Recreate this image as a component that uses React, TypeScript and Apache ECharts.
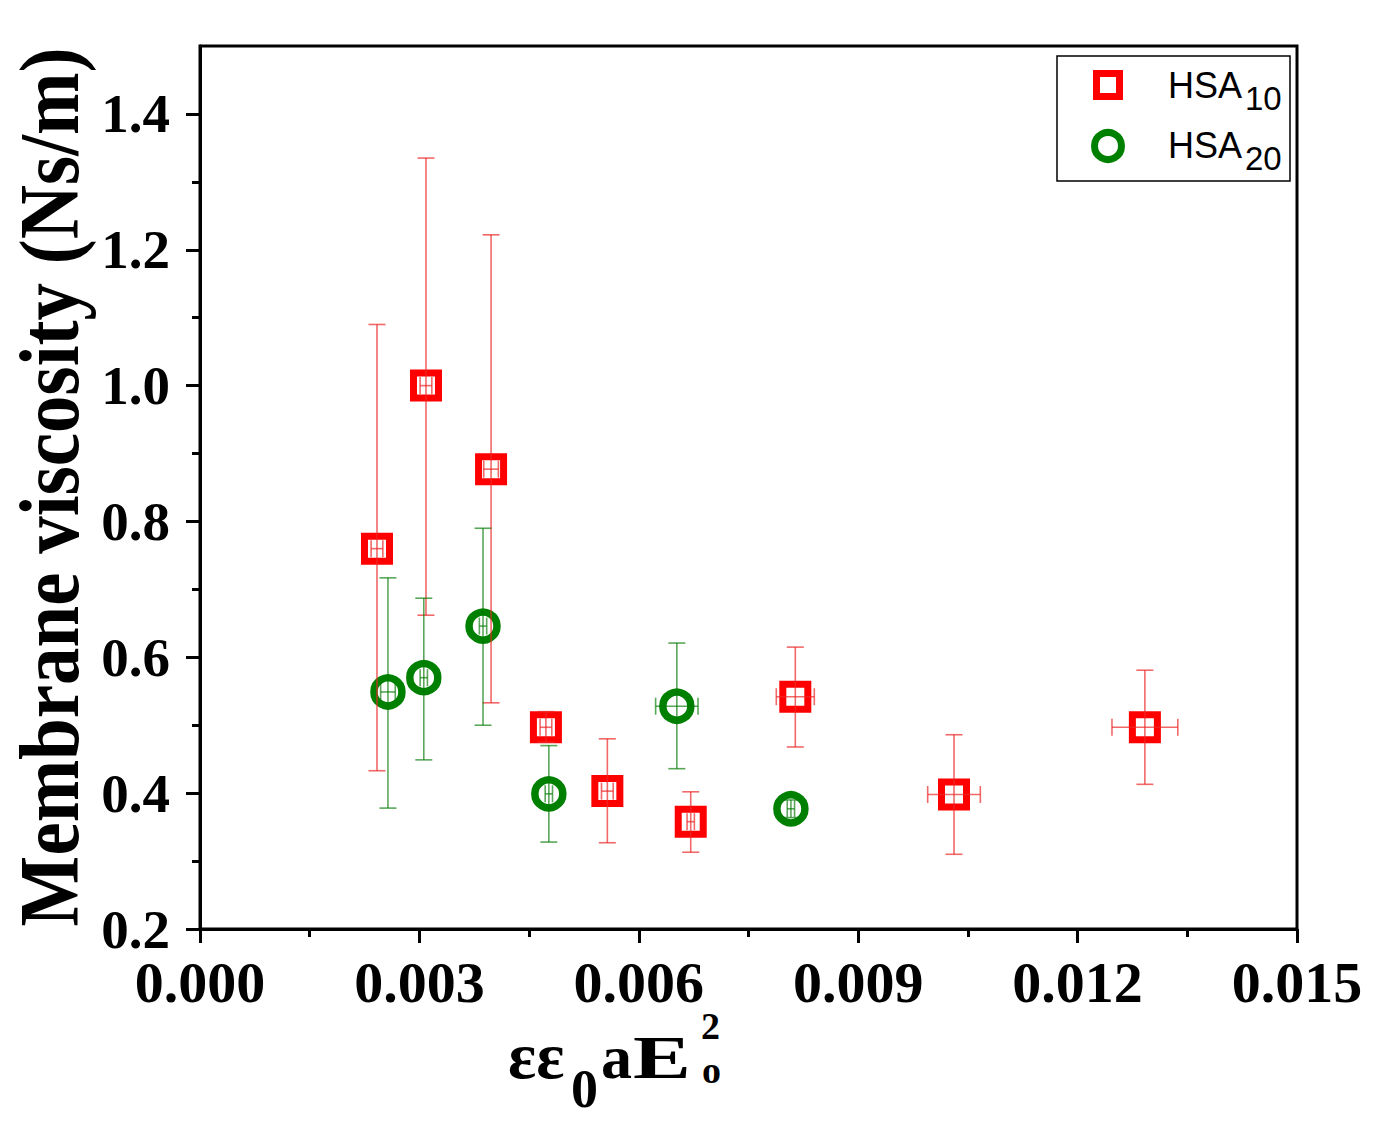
import React, { useEffect, useRef } from "react";
import * as echarts from "echarts";

// ---- Data ----
const hsa10X = [0.00242, 0.00309, 0.00398, 0.00473, 0.00557, 0.00671, 0.00814, 0.01031, 0.01292];
const hsa10Y = [0.76, 1.0, 0.877, 0.497, 0.403, 0.358, 0.542, 0.398, 0.497];
const hsa10YLow = [0.433, 0.662, 0.533, 0.475, 0.327, 0.313, 0.468, 0.31, 0.413];
const hsa10YHigh = [1.09, 1.335, 1.222, 0.52, 0.48, 0.402, 0.615, 0.486, 0.581];
const hsa10XErr = [0.00008, 0.00008, 0.0001, 0.00008, 0.00008, 0.00005, 0.00026, 0.00036, 0.00045];

const hsa20X = [0.00257, 0.00306, 0.00387, 0.00477, 0.00652, 0.00808];
const hsa20Y = [0.549, 0.57, 0.646, 0.399, 0.528, 0.377];
const hsa20YLow = [0.378, 0.449, 0.5, 0.328, 0.436, 0.364];
const hsa20YHigh = [0.717, 0.687, 0.79, 0.47, 0.621, 0.39];
const hsa20XErr = [0.0001, 0.00005, 0.00005, 0.00005, 0.00029, 0.00005];

const yMajor = [0.2, 0.4, 0.6, 0.8, 1.0, 1.2, 1.4];
const yMinor = [0.3, 0.5, 0.7, 0.9, 1.1, 1.3];

const SERIF = "'Liberation Serif', 'Times New Roman', serif";
const SANS = "'Liberation Sans', Arial, sans-serif";

function errRows(xs: number[], ys: number[], lo: number[], hi: number[], xe: number[]) {
  return xs.map((x, i) => [x, ys[i], lo[i], hi[i], xe[i]]);
}

function makeErrSeries(name: string, rows: number[][], color: string) {
  return {
    type: "custom",
    name: name + "-err",
    z: 5,
    silent: true,
    encode: { x: 0, y: 1 },
    data: rows,
    renderItem: (params: any, api: any) => {
      const x = api.value(0);
      const y = api.value(1);
      const lo = api.value(2);
      const hi = api.value(3);
      const xe = api.value(4);
      const pHi = api.coord([x, hi]);
      const pLo = api.coord([x, lo]);
      const pL = api.coord([x - xe, y]);
      const pR = api.coord([x + xe, y]);
      const c = 8.5;
      const style = { stroke: color, lineWidth: 1.6 };
      return {
        type: "group",
        children: [
          { type: "line", shape: { x1: pHi[0], y1: pHi[1], x2: pLo[0], y2: pLo[1] }, style },
          { type: "line", shape: { x1: pHi[0] - c, y1: pHi[1], x2: pHi[0] + c, y2: pHi[1] }, style },
          { type: "line", shape: { x1: pLo[0] - c, y1: pLo[1], x2: pLo[0] + c, y2: pLo[1] }, style },
          { type: "line", shape: { x1: pL[0], y1: pL[1], x2: pR[0], y2: pR[1] }, style },
          { type: "line", shape: { x1: pL[0], y1: pL[1] - c, x2: pL[0], y2: pL[1] + c }, style },
          { type: "line", shape: { x1: pR[0], y1: pR[1] - c, x2: pR[0], y2: pR[1] + c }, style },
        ],
      };
    },
  };
}

export default function App() {
  const ref = useRef<HTMLDivElement>(null);
  useEffect(() => {
    if (!ref.current) return;
    const chart = echarts.init(ref.current, null, { renderer: "svg" });
    const tickStyle = { color: "#000", width: 3 };
    const option: any = {
      animation: false,
      backgroundColor: "#fff",
      grid: {
        left: 200,
        right: 92,
        top: 46,
        bottom: 205,
        show: true,
        borderColor: "#000",
        borderWidth: 3,
        containLabel: false,
      },
      xAxis: {
        type: "value",
        min: 0,
        max: 0.015,
        interval: 0.003,
        axisLine: { show: true, lineStyle: tickStyle },
        axisTick: { show: true, length: 14, lineStyle: tickStyle },
        minorTick: { show: true, splitNumber: 2, length: 8, lineStyle: tickStyle },
        splitLine: { show: false },
        minorSplitLine: { show: false },
        axisLabel: {
          formatter: (v: number) => v.toFixed(3),
          fontFamily: SERIF,
          fontWeight: "bold",
          fontSize: 58,
          color: "#000",
          margin: 24,
        },
      },
      yAxis: [
        {
          type: "value",
          min: 0.2,
          max: 1.5,
          position: "left",
          axisLine: { show: true, lineStyle: tickStyle },
          axisTick: { show: true, length: 14, lineStyle: tickStyle, customValues: yMajor },
          splitLine: { show: false },
          axisLabel: {
            customValues: yMajor,
            formatter: (v: number) => v.toFixed(1),
            fontFamily: SERIF,
            fontWeight: "bold",
            fontSize: 55,
            color: "#000",
            margin: 30,
          },
        },
        {
          type: "value",
          min: 0.2,
          max: 1.5,
          position: "left",
          axisLine: { show: false },
          axisTick: { show: true, length: 8, lineStyle: tickStyle, customValues: yMinor },
          splitLine: { show: false },
          axisLabel: { show: false },
        },
      ],
      series: [
        {
          type: "scatter",
          name: "HSA10",
          z: 3,
          symbol: "rect",
          symbolSize: 25,
          itemStyle: { color: "#fff", borderColor: "#ff0000", borderWidth: 7, opacity: 1 },
          data: hsa10X.map((x, i) => [x, hsa10Y[i]]),
        },
        {
          type: "scatter",
          name: "HSA20",
          z: 3,
          symbol: "circle",
          symbolSize: 28,
          itemStyle: { color: "#fff", borderColor: "#008000", borderWidth: 7.5, opacity: 1 },
          data: hsa20X.map((x, i) => [x, hsa20Y[i]]),
        },
        makeErrSeries("HSA10", errRows(hsa10X, hsa10Y, hsa10YLow, hsa10YHigh, hsa10XErr), "rgba(235,40,40,0.7)"),
        makeErrSeries("HSA20", errRows(hsa20X, hsa20Y, hsa20YLow, hsa20YHigh, hsa20XErr), "rgba(0,120,0,0.65)"),
      ],
      graphic: [
        // Y axis title
        {
          type: "text",
          x: 50,
          y: 487,
          rotation: Math.PI / 2,
          scaleY: 1.12,
          style: {
            text: "Membrane viscosity (Ns/m)",
            font: `bold 75px ${SERIF}`,
            fill: "#000",
            textAlign: "center",
            textVerticalAlign: "middle",
          },
        },
        // X axis title pieces
        {
          type: "text",
          x: 508,
          y: 1055,
          style: { text: "εε", font: `bold 66px ${SERIF}`, fill: "#000", textAlign: "left", textVerticalAlign: "middle" },
        },
        {
          type: "text",
          x: 571,
          y: 1089,
          style: { text: "0", font: `bold 54px ${SERIF}`, fill: "#000", textAlign: "left", textVerticalAlign: "middle" },
        },
        {
          type: "text",
          x: 601,
          y: 1057,
          style: { text: "a", font: `bold 62px ${SERIF}`, fill: "#000", textAlign: "left", textVerticalAlign: "middle" },
        },
        {
          type: "text",
          x: 633,
          y: 1057,
          scaleX: 1.4,
          style: { text: "E", font: `bold 62px ${SERIF}`, fill: "#000", textAlign: "left", textVerticalAlign: "middle" },
        },
        {
          type: "text",
          x: 701,
          y: 1026,
          style: { text: "2", font: `bold 38px ${SERIF}`, fill: "#000", textAlign: "left", textVerticalAlign: "middle" },
        },
        {
          type: "text",
          x: 702,
          y: 1070,
          style: { text: "o", font: `bold 38px ${SERIF}`, fill: "#000", textAlign: "left", textVerticalAlign: "middle" },
        },
        // Legend
        {
          type: "rect",
          shape: { x: 1057, y: 56, width: 233, height: 125 },
          style: { fill: "#fff", stroke: "#000", lineWidth: 1.5 },
          z: 10,
        },
        {
          type: "rect",
          shape: { x: 1108 - 11.5, y: 85 - 11.5, width: 23, height: 23 },
          style: { fill: "#fff", stroke: "#ff0000", lineWidth: 7 },
          z: 11,
        },
        {
          type: "circle",
          shape: { cx: 1108, cy: 146, r: 13.5 },
          style: { fill: "#fff", stroke: "#008000", lineWidth: 7 },
          z: 11,
        },
        {
          type: "text",
          x: 1168,
          y: 85.5,
          z: 11,
          style: { text: "HSA", font: `36px ${SANS}`, fill: "#000", textAlign: "left", textVerticalAlign: "middle" },
        },
        {
          type: "text",
          x: 1245,
          y: 98,
          z: 11,
          style: { text: "10", font: `33px ${SANS}`, fill: "#000", textAlign: "left", textVerticalAlign: "middle" },
        },
        {
          type: "text",
          x: 1168,
          y: 145.5,
          z: 11,
          style: { text: "HSA", font: `36px ${SANS}`, fill: "#000", textAlign: "left", textVerticalAlign: "middle" },
        },
        {
          type: "text",
          x: 1245,
          y: 158,
          z: 11,
          style: { text: "20", font: `33px ${SANS}`, fill: "#000", textAlign: "left", textVerticalAlign: "middle" },
        },
      ],
    };
    chart.setOption(option);
    return () => chart.dispose();
  }, []);
  return (
    <div
      ref={ref}
      style={{ position: "fixed", left: 0, top: 0, width: 1389, height: 1134, background: "#fff" }}
    />
  );
}
